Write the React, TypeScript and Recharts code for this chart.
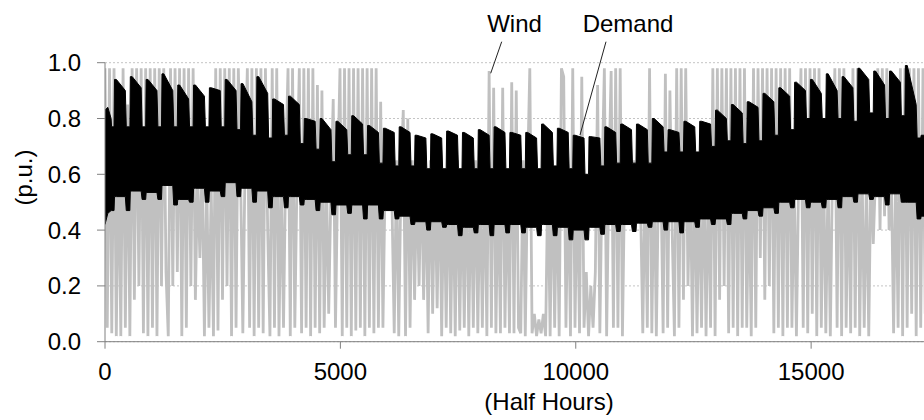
import React from "react";
import {
  ComposedChart,
  Area,
  XAxis,
  YAxis,
  CartesianGrid,
} from "recharts";

// half hours per day / per week, first monday of the year (half hour index)
const DAY = 48;
const WEEK = 336;
const FIRST_MONDAY = 202;

// wind output (p.u.), one reading per day in six stretches
const windJanFeb = [
  0.98, 0.05, 0.98, 0.03, 0.98, 0.02, 0.7, 0.02, 0.98, 0.05, 0.85, 0.02, 0.98, 0.15, 0.98, 0.2,
  0.98, 0.03, 0.98, 0.02, 0.98, 0.05, 0.98, 0.02, 0.98, 0.2, 0.98, 0.25, 0.02, 0.98, 0.2, 0.98,
  0.25, 0.98, 0.02, 0.98, 0.05, 0.98, 0.2, 0.98, 0.15, 0.6, 0.3, 0.65, 0.02, 0.6, 0.05, 0.55,
  0.02, 0.98, 0.04, 0.98, 0.15, 0.98, 0.2, 0.98, 0.02, 0.98, 0.05, 0.98,
];
const windMarApr = [
  0.6, 0.03, 0.65, 0.98, 0.05, 0.98, 0.02, 0.98, 0.05, 0.98, 0.03, 0.98, 0.4, 0.02, 0.98, 0.05,
  0.98, 0.02, 0.6, 0.05, 0.65, 0.98, 0.02, 0.98, 0.05, 0.6, 0.98, 0.03, 0.98, 0.05, 0.98, 0.02,
  0.98, 0.05, 0.92, 0.03, 0.9, 0.05, 0.6, 0.1, 0.55, 0.87, 0.05, 0.6, 0.98, 0.02, 0.98, 0.05,
  0.98, 0.02, 0.98, 0.04, 0.98, 0.05, 0.98, 0.02, 0.98, 0.05, 0.98, 0.03, 0.98, 0.05,
];
const windMayJun = [
  0.86, 0.05, 0.6, 0.5, 0.55, 0.5, 0.03, 0.65, 0.02, 0.6, 0.83, 0.02, 0.8, 0.05, 0.65, 0.15,
  0.6, 0.2, 0.65, 0.15, 0.6, 0.03, 0.65, 0.1, 0.6, 0.12, 0.65, 0.02, 0.6, 0.05, 0.65, 0.03,
  0.6, 0.02, 0.65, 0.04, 0.6, 0.05, 0.65, 0.02, 0.6, 0.05, 0.65, 0.03, 0.6, 0.05, 0.65, 0.02,
  0.97, 0.05, 0.91, 0.03, 0.6, 0.03, 0.91, 0.05, 0.6, 0.03, 0.93, 0.03, 0.9, 0.05,
];
const windJulAug = [
  0.03, 0.65, 0.02, 0.6, 0.98, 0.03, 0.1, 0.02, 0.08, 0.03, 0.1, 0.02, 0.6, 0.02, 0.65, 0.05,
  0.6, 0.02, 0.98, 0.95, 0.05, 0.6, 0.02, 0.98, 0.05, 0.6, 0.03, 0.95, 0.05, 0.25, 0.02, 0.2,
  0.05, 0.25, 0.92, 0.03, 0.6, 0.98, 0.02, 0.6, 0.97, 0.05, 0.98, 0.05, 0.98, 0.02, 0.6, 0.5,
  0.6, 0.55, 0.65, 0.5, 0.6, 0.5, 0.03, 0.6, 0.05, 0.98, 0.03, 0.65, 0.02, 0.6,
];
const windSepOct = [
  0.6, 0.03, 0.96, 0.05, 0.9, 0.4, 0.02, 0.98, 0.05, 0.98, 0.15, 0.98, 0.2, 0.6, 0.02, 0.65,
  0.03, 0.6, 0.05, 0.65, 0.02, 0.6, 0.05, 0.98, 0.02, 0.98, 0.15, 0.98, 0.2, 0.98, 0.03, 0.98,
  0.05, 0.98, 0.02, 0.98, 0.05, 0.98, 0.05, 0.6, 0.02, 0.98, 0.05, 0.98, 0.3, 0.98, 0.15, 0.98,
  0.2, 0.98, 0.03, 0.98, 0.05, 0.98, 0.02, 0.98, 0.05, 0.98, 0.05, 0.6, 0.02, 0.6,
];
const windNovDec = [
  0.98, 0.05, 0.98, 0.03, 0.98, 0.1, 0.98, 0.02, 0.98, 0.05, 0.65, 0.03, 0.6, 0.02, 0.65, 0.98,
  0.05, 0.98, 0.02, 0.98, 0.05, 0.65, 0.03, 0.98, 0.05, 0.98, 0.02, 0.65, 0.05, 0.6, 0.02, 0.65,
  0.35, 0.6, 0.98, 0.4, 0.98, 0.45, 0.98, 0.4, 0.6, 0.03, 0.65, 0.05, 0.98, 0.02, 0.98, 0.05,
  0.98, 0.1, 0.98, 0.02, 0.98, 0.05, 0.98, 0.1, 0.98,
];

// demand (p.u.) before the first monday
const leadHours = [0, 60, 130, 140, 192];
const leadTop = [0.83, 0.84, 0.8, 0.77, 0.77];
const leadLow = [0.42, 0.46, 0.47, 0.47, 0.47];

// demand per week: weekday peak, friday top, weekend top, weekday low, weekend low
const demandPeak = [
  0.94, 0.95, 0.94, 0.96, 0.92, 0.92, 0.91, 0.94, 0.925, 0.95, 0.87, 0.88, 0.8, 0.8, 0.79, 0.81,
  0.775, 0.765, 0.77, 0.74, 0.745, 0.755, 0.75, 0.76, 0.77, 0.75, 0.75, 0.78, 0.765, 0.74, 0.735, 0.77,
  0.78, 0.78, 0.8, 0.76, 0.79, 0.79, 0.83, 0.85, 0.86, 0.89, 0.91, 0.93, 0.94, 0.96, 0.95, 0.98,
  0.97, 0.97, 0.99, 0.74,
];
const demandFri = [
  0.9, 0.91, 0.9, 0.9, 0.87, 0.88, 0.9, 0.9, 0.86, 0.89, 0.85, 0.85, 0.79, 0.76, 0.76, 0.78,
  0.75, 0.75, 0.75, 0.73, 0.73, 0.74, 0.73, 0.74, 0.75, 0.74, 0.73, 0.75, 0.75, 0.73, 0.73, 0.75,
  0.76, 0.76, 0.77, 0.75, 0.77, 0.78, 0.8, 0.82, 0.84, 0.86, 0.88, 0.9, 0.89, 0.9, 0.91, 0.94,
  0.92, 0.93, 0.85, 0.74,
];
const demandWkend = [
  0.77, 0.77, 0.77, 0.77, 0.77, 0.77, 0.77, 0.76, 0.74, 0.73, 0.74, 0.71, 0.69, 0.645, 0.67, 0.67,
  0.64, 0.63, 0.63, 0.62, 0.62, 0.62, 0.62, 0.62, 0.62, 0.62, 0.62, 0.63, 0.62, 0.6, 0.63, 0.64,
  0.64, 0.64, 0.68, 0.68, 0.68, 0.7, 0.72, 0.71, 0.72, 0.74, 0.76, 0.8, 0.8, 0.8, 0.79, 0.82,
  0.8, 0.81, 0.73, 0.72,
];
const demandLow = [
  0.52, 0.54, 0.535, 0.56, 0.51, 0.55, 0.54, 0.57, 0.55, 0.54, 0.52, 0.52, 0.51, 0.5, 0.49, 0.49,
  0.49, 0.47, 0.45, 0.43, 0.43, 0.42, 0.41, 0.42, 0.42, 0.42, 0.41, 0.42, 0.41, 0.4, 0.41, 0.42,
  0.42, 0.425, 0.43, 0.43, 0.43, 0.44, 0.44, 0.46, 0.47, 0.48, 0.5, 0.51, 0.5, 0.51, 0.52, 0.53,
  0.52, 0.53, 0.5, 0.45,
];
const demandWkendLow = [
  0.47, 0.51, 0.51, 0.49, 0.5, 0.5, 0.52, 0.52, 0.5, 0.48, 0.48, 0.49, 0.47, 0.455, 0.46, 0.44,
  0.44, 0.44, 0.42, 0.4, 0.41, 0.38, 0.39, 0.38, 0.39, 0.39, 0.38, 0.38, 0.365, 0.365, 0.385, 0.395,
  0.395, 0.41, 0.4, 0.39, 0.41, 0.42, 0.42, 0.44, 0.45, 0.46, 0.48, 0.48, 0.48, 0.48, 0.5, 0.51,
  0.49, 0.5, 0.44, 0.44,
];

const xTicks = [0, 5000, 10000, 15000];
const yTicks = [0, 0.2, 0.4, 0.6, 0.8, 1.0];

const windData = [
  ...windJanFeb,
  ...windMarApr,
  ...windMayJun,
  ...windJulAug,
  ...windSepOct,
  ...windNovDec,
].map((w, i) => ({ h: i * DAY, wind: w }));

const demandData: { h: number; range: [number, number] }[] = leadHours.map((h, i) => ({
  h,
  range: [leadLow[i], leadTop[i]],
}));
demandPeak.forEach((peak, k) => {
  const h0 = FIRST_MONDAY + k * WEEK;
  demandData.push({ h: h0, range: [demandLow[k], peak] });
  demandData.push({ h: h0 + 40, range: [demandLow[k], peak] });
  demandData.push({ h: h0 + 230, range: [demandLow[k], demandFri[k]] });
  demandData.push({ h: h0 + 250, range: [demandWkendLow[k], demandWkend[k]] });
  demandData.push({ h: h0 + 326, range: [demandWkendLow[k], demandWkend[k]] });
});

const FONT = "'Liberation Sans', Arial, sans-serif";
const tickStyle = { fontSize: 24, fill: "#000", fontFamily: FONT };

export default function App() {
  return (
    <div style={{ position: "relative", width: 924, height: 420, overflow: "hidden", background: "#fff" }}>
      <style>{"html,body{margin:0;padding:0;overflow:hidden;background:#fff}"}</style>
      <ComposedChart
        width={1070}
        height={420}
        margin={{ top: 62.7, right: 23.5, bottom: 18.3, left: 0 }}
      >
        <CartesianGrid vertical={false} stroke="#c4c4c4" strokeDasharray="2 2" />
        <XAxis
          dataKey="h"
          type="number"
          domain={[0, 20000]}
          ticks={xTicks}
          interval={0}
          height={60}
          tickSize={7}
          tickMargin={14}
          stroke="#808080"
          tick={tickStyle}
          allowDataOverflow
        />
        <YAxis
          type="number"
          domain={[0, 1]}
          ticks={yTicks}
          interval={0}
          width={105}
          tickSize={8}
          tickMargin={16}
          stroke="#808080"
          tick={tickStyle}
          tickFormatter={(v: number) => v.toFixed(1)}
        />
        {/* wind: stroke only, drawn first so demand sits on top */}
        <Area
          data={windData}
          dataKey="wind"
          type="linear"
          stroke="#c0c0c0"
          strokeWidth={2.8}
          fill="none"
          fillOpacity={0}
          dot={false}
          activeDot={false}
          isAnimationActive={false}
        />
        <Area
          data={demandData}
          dataKey="range"
          type="linear"
          stroke="#000"
          strokeWidth={1}
          fill="#000"
          fillOpacity={1}
          dot={false}
          activeDot={false}
          isAnimationActive={false}
        />
      </ComposedChart>
      <svg
        width={924}
        height={420}
        style={{ position: "absolute", left: 0, top: 0, pointerEvents: "none" }}
      >
        <g fontFamily={FONT} fontSize={24} fill="#000">
          <text x={514.5} y={32} textAnchor="middle">Wind</text>
          <text x={628} y={32} textAnchor="middle">Demand</text>
          <text x={549} y={410} textAnchor="middle">(Half Hours)</text>
          <text x={32} y={177.5} textAnchor="middle" transform="rotate(-90 32 177.5)">
            (p.u.)
          </text>
        </g>
        <line x1={501.7} y1={41.7} x2={490.7} y2={73.3} stroke="#222" strokeWidth={1} />
        <line x1={606} y1={41.7} x2={580} y2={135} stroke="#222" strokeWidth={1} />
      </svg>
    </div>
  );
}
